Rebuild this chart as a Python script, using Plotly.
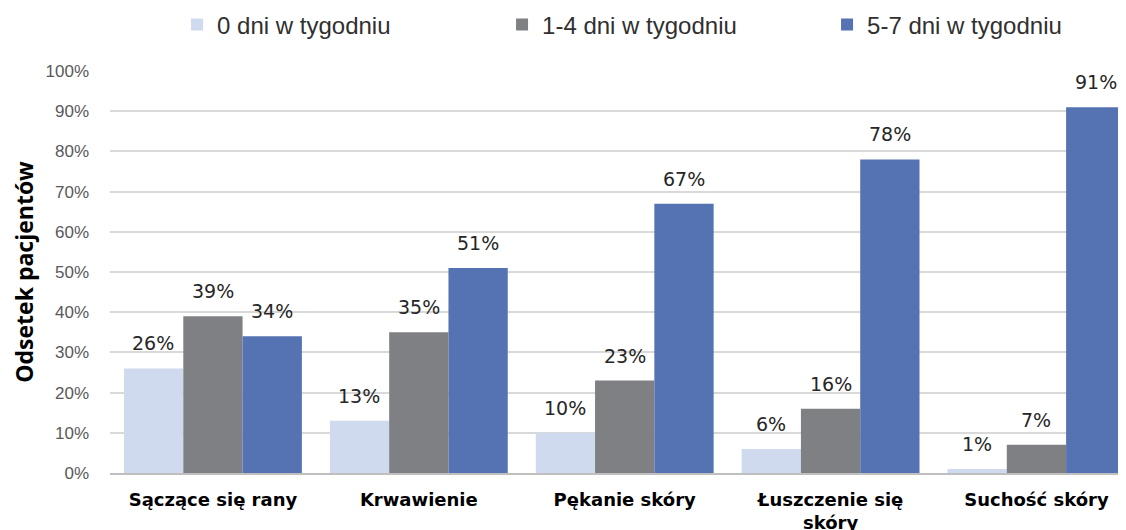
import plotly.graph_objects as go

categories = ["Sączące się rany", "Krwawienie", "Pękanie skóry", "Łuszczenie się<br>skóry", "Suchość skóry"]
series_names = ["0 dni w tygodniu", "1-4 dni w tygodniu", "5-7 dni w tygodniu"]
v0 = [26, 13, 10, 6, 1]
v14 = [39, 35, 23, 16, 7]
v57 = [34, 51, 67, 78, 91]
colors = ["#CFDAEE", "#7F8083", "#5573B2"]
tick_vals = [0, 10, 20, 30, 40, 50, 60, 70, 80, 90, 100]
tick_text = [f"{t}%" for t in tick_vals]

BAR_PX = 59.5  # approximate bar width in px, used to offset value labels
fig = go.Figure()
all_series = [v0, v14, v57]
for i, (name, vals, col) in enumerate(zip(series_names, all_series, colors)):
    fig.add_trace(go.Bar(
        x=categories, y=vals, name=name, marker=dict(color=col, line=dict(width=0)),
    ))
    for c, v in zip(categories, vals):
        fig.add_annotation(
            x=c, y=v, text=f"{v}%", showarrow=False, yanchor="bottom",
            xshift=(i - 1) * BAR_PX, yshift=12,
            font=dict(family="DejaVu Sans", size=19, color="#262626"),
        )

fig.update_layout(
    width=1126, height=530,
    margin=dict(l=102, r=8, t=63, b=65, autoexpand=False),
    paper_bgcolor="white", plot_bgcolor="white",
    barmode="group", bargap=0.136, bargroupgap=0,
    legend=dict(orientation="h", x=0.066, xanchor="left", y=0.968, yanchor="middle",
                yref="container", entrywidth=280, itemwidth=30,
                font=dict(family="Liberation Sans", size=24, color="#303030")),
    xaxis=dict(range=[-0.5, 4.435], showgrid=False, ticks="", automargin=False,
               ticklabelstandoff=9,
               tickfont=dict(family="DejaVu Sans", size=18, color="#000000", weight="bold"),
               showline=True, linecolor="#BFBFBF", linewidth=2),
    yaxis=dict(range=[0, 100], tickvals=tick_vals, ticktext=tick_text, automargin=False,
               showgrid=True, gridcolor="#D9D9D9", gridwidth=2,
               zeroline=False, ticks="", ticklen=0, ticklabelstandoff=20,
               tickfont=dict(family="Liberation Sans", size=17, color="#595959"),
               title=dict(text="Odsetek pacjentów", standoff=9,
                          font=dict(family="Open Sans", size=23, color="#000000", weight="bold"))),
)

fig.write_html("out.html")
